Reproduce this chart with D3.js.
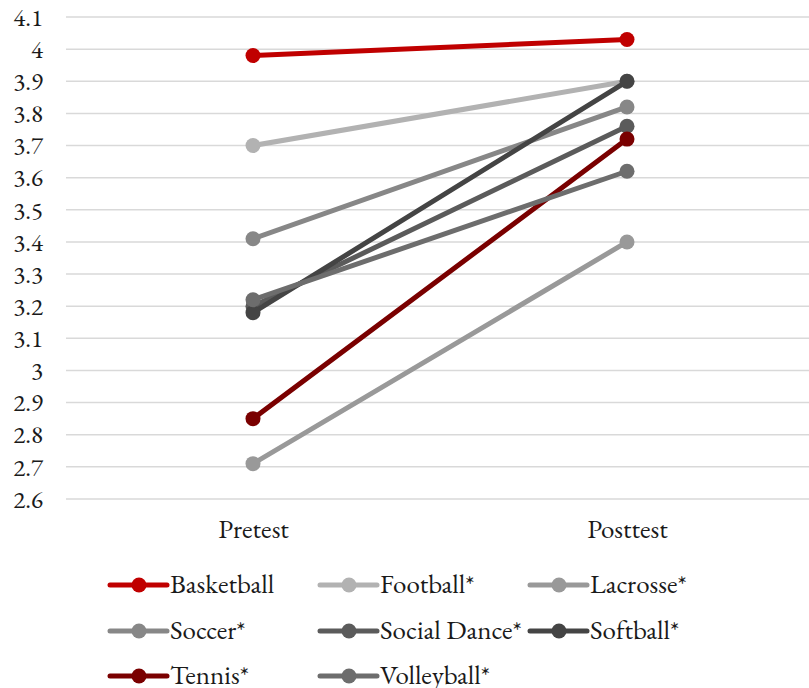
<!DOCTYPE html>
<html>
<head>
<meta charset="utf-8">
<script src="https://cdn.jsdelivr.net/npm/d3@7/dist/d3.min.js"></script>
<style>
  html, body { margin: 0; padding: 0; background: #fff; }
  svg text { font-family: "EB Garamond", Garamond, "Liberation Serif", "DejaVu Serif", serif; fill: #1a1a1a; }
</style>
</head>
<body>
<svg id="chart" width="809" height="688"></svg>
<script>
// Test phases on the x axis
const phases = ["Pretest", "Posttest"];

// Sport groups, in legend / drawing order
const sports = ["Basketball", "Football*", "Lacrosse*", "Soccer*", "Social Dance*", "Softball*", "Tennis*", "Volleyball*"];

// Mean scores per sport: [Pretest, Posttest]
const basketball  = [3.98, 4.03];
const football    = [3.70, 3.90];
const lacrosse    = [2.71, 3.40];
const soccer      = [3.41, 3.82];
const socialDance = [3.20, 3.76];
const softball    = [3.18, 3.90];
const tennis      = [2.85, 3.72];
const volleyball  = [3.22, 3.62];

const colors = ["#c00000", "#b2b2b2", "#999999", "#878787", "#5b5b5b", "#444444", "#7a0000", "#6d6d6d"];

// Y axis ticks
const yTicks = [2.6, 2.7, 2.8, 2.9, 3.0, 3.1, 3.2, 3.3, 3.4, 3.5, 3.6, 3.7, 3.8, 3.9, 4.0, 4.1];

const seriesValues = [basketball, football, lacrosse, soccer, socialDance, softball, tennis, volleyball];
const series = sports.map((name, i) => ({ name, color: colors[i], values: seriesValues[i] }));

const svg = d3.select("#chart");

const plot = { left: 66, right: 814, top: 17, bottom: 499 };

const x = d3.scalePoint()
  .domain(phases)
  .range([plot.left, plot.right])
  .padding(0.5);

const y = d3.scaleLinear()
  .domain([2.6, 4.1])
  .range([plot.bottom, plot.top]);

// Horizontal gridlines
svg.append("g")
  .selectAll("line")
  .data(yTicks)
  .join("line")
  .attr("x1", plot.left)
  .attr("x2", 809)
  .attr("y1", d => y(d))
  .attr("y2", d => y(d))
  .attr("stroke", "#d9d9d9")
  .attr("stroke-width", 1.5);

// Y axis labels
const yAxis = d3.axisLeft(y)
  .tickValues(yTicks)
  .tickFormat(d => d3.format("")(+d.toFixed(1)))
  .tickSize(0)
  .tickPadding(0);

const yg = svg.append("g")
  .attr("transform", `translate(${plot.left - 23},0)`)
  .call(yAxis);
yg.select(".domain").remove();
yg.selectAll("text")
  .attr("font-size", 25)
  .attr("dy", "0.33em")
  .attr("text-anchor", "end");

// X axis labels
const xAxis = d3.axisBottom(x).tickSize(0).tickPadding(0);
const xg = svg.append("g")
  .attr("transform", `translate(0,${plot.bottom})`)
  .call(xAxis);
xg.select(".domain").remove();
xg.selectAll("text")
  .attr("font-size", 27)
  .attr("y", 39)
  .attr("dy", 0);

// Series lines and markers
const line = d3.line()
  .x((d, i) => x(phases[i]))
  .y(d => y(d));

const sg = svg.append("g")
  .selectAll("g")
  .data(series)
  .join("g");

sg.append("path")
  .attr("d", d => line(d.values))
  .attr("fill", "none")
  .attr("stroke", d => d.color)
  .attr("stroke-width", 5)
  .attr("stroke-linecap", "round");

sg.selectAll("circle")
  .data(d => d.values.map((v, i) => ({ v, i, color: d.color })))
  .join("circle")
  .attr("cx", d => x(phases[d.i]))
  .attr("cy", d => y(d.v))
  .attr("r", 7.5)
  .attr("fill", d => d.color);

// Legend: three columns
const legendCols = [110, 320, 530];
const legendRows = [585, 631, 676];

const lg = svg.append("g")
  .selectAll("g")
  .data(series)
  .join("g")
  .attr("transform", (d, i) => `translate(${legendCols[i % 3]},${legendRows[Math.floor(i / 3)]})`);

lg.append("line")
  .attr("x1", 0)
  .attr("x2", 57)
  .attr("stroke", d => d.color)
  .attr("stroke-width", 5)
  .attr("stroke-linecap", "round");

lg.append("circle")
  .attr("cx", 29)
  .attr("r", 7.5)
  .attr("fill", d => d.color);

lg.append("text")
  .attr("x", 60)
  .attr("y", 8)
  .attr("font-size", 27)
  .text(d => d.name);
</script>
</body>
</html>
